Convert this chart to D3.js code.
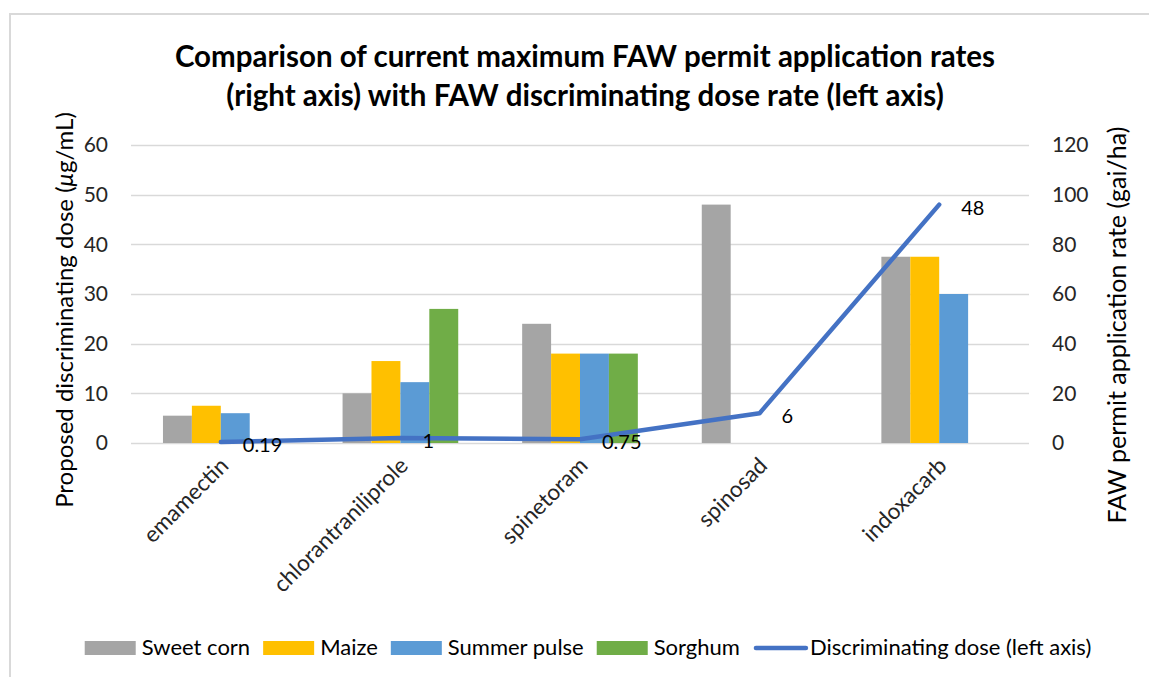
<!DOCTYPE html>
<html>
<head>
<meta charset="utf-8">
<script src="https://cdn.jsdelivr.net/npm/d3@7"></script>
<style>
  body { margin: 0; background: #fff; }
  svg { display: block; font-family: Lato, "Open Sans", sans-serif; }
</style>
</head>
<body>
<svg id="chart" width="1149" height="677"></svg>
<script>
// categories (insecticides)
var categories = ["emamectin", "chlorantraniliprole", "spinetoram", "spinosad", "indoxacarb"];

// permit application rates, right axis (gai/ha); null = no permit
var sweetCorn   = [11, 20, 48, 96, 75];
var maize       = [15, 33, 36, null, 75];
var summerPulse = [12, 24.5, 36, null, 60];
var sorghum     = [null, 54, 36, null, null];

// discriminating dose, left axis (ug/mL)
var discDose = [0.19, 1, 0.75, 6, 48];
var discDoseLabels = ["0.19", "1", "0.75", "6", "48"];

var leftTicks = [0, 10, 20, 30, 40, 50, 60];
var rightTicks = [0, 20, 40, 60, 80, 100, 120];

var seriesNames = ["Sweet corn", "Maize", "Summer pulse", "Sorghum"];
var seriesColors = ["#a5a5a5", "#ffc000", "#5b9bd5", "#70ad47"];
var lineName = "Discriminating dose (left axis)";
var lineColor = "#4472c4";

var svg = d3.select("#chart");

var plot = {left: 131, right: 1029, top: 145, bottom: 443};

// outer frame of the chart
svg.append("rect")
    .attr("x", 10).attr("y", 14)
    .attr("width", 1160).attr("height", 700)
    .attr("fill", "none")
    .attr("stroke", "#d9d9d9")
    .attr("stroke-width", 2);

/************************
 * scales
 ************************/
var x0 = d3.scaleBand()
    .domain(categories)
    .range([plot.left, plot.right])
    .paddingInner(0.356)
    .paddingOuter(0.178);

var x1 = d3.scaleBand()
    .domain(seriesNames)
    .range([0, x0.bandwidth()]);

var yLeft = d3.scaleLinear().domain([0, 60]).range([plot.bottom, plot.top]);
var yRight = d3.scaleLinear().domain([0, 120]).range([plot.bottom, plot.top]);

// gridlines
svg.append("g")
    .selectAll("line")
    .data(leftTicks)
    .enter()
    .append("line")
    .attr("x1", plot.left)
    .attr("x2", plot.right)
    .attr("y1", function(d) { return Math.round(yLeft(d)) + 0.5; })
    .attr("y2", function(d) { return Math.round(yLeft(d)) + 0.5; })
    .attr("stroke", "#d9d9d9")
    .attr("stroke-width", 1.5);

// left axis labels
var leftAxis = d3.axisLeft(yLeft).tickValues(leftTicks).tickSize(0).tickPadding(0);
var gl = svg.append("g")
    .attr("transform", "translate(108,0)")
    .call(leftAxis);
gl.select(".domain").remove();
gl.selectAll("text")
    .attr("font-family", "Lato, sans-serif")
    .attr("font-size", 21)
    .attr("fill", "#262626");

// right axis labels
var rightAxis = d3.axisRight(yRight).tickValues(rightTicks).tickSize(0).tickPadding(0);
var gr = svg.append("g")
    .attr("transform", "translate(1052,0)")
    .call(rightAxis);
gr.select(".domain").remove();
gr.selectAll("text")
    .attr("font-family", "Lato, sans-serif")
    .attr("font-size", 21)
    .attr("fill", "#262626");

/************************
 * bars
 ************************/
var allSeries = [sweetCorn, maize, summerPulse, sorghum];
var barData = [];
categories.forEach(function(c, i) {
    seriesNames.forEach(function(s, j) {
        if (allSeries[j][i] !== null)
            barData.push({cat: c, series: s, color: seriesColors[j], value: allSeries[j][i]});
    });
});

svg.append("g")
    .selectAll("rect")
    .data(barData)
    .enter()
    .append("rect")
    .attr("x", function(d) { return x0(d.cat) + x1(d.series); })
    .attr("width", x1.bandwidth())
    .attr("y", function(d) { return yRight(d.value); })
    .attr("height", function(d) { return yRight(0) - yRight(d.value); })
    .attr("fill", function(d) { return d.color; });

/************************
 * line
 ************************/
var cx = function(i) { return x0(categories[i]) + x0.bandwidth() / 2; };
var line = d3.line()
    .x(function(d, i) { return cx(i); })
    .y(function(d) { return yLeft(d); });

svg.append("path")
    .datum(discDose)
    .attr("d", line)
    .attr("fill", "none")
    .attr("stroke", lineColor)
    .attr("stroke-width", 4.5)
    .attr("stroke-linejoin", "round")
    .attr("stroke-linecap", "round");

svg.append("g")
    .selectAll("text")
    .data(discDose)
    .enter()
    .append("text")
    .attr("x", function(d, i) { return cx(i) + 22; })
    .attr("y", function(d) { return yLeft(d) + 5; })
    .attr("dominant-baseline", "middle")
    .attr("font-size", 20)
    .attr("fill", "#000")
    .text(function(d, i) { return discDoseLabels[i]; });

// category labels, rotated
svg.append("g")
    .selectAll("text")
    .data(categories)
    .enter()
    .append("text")
    .attr("transform", function(d) {
        return "translate(" + (x0(d) + x0.bandwidth() / 2 + 9) + ",467) rotate(-45)";
    })
    .attr("text-anchor", "end")
    .attr("font-size", 22.5)
    .attr("fill", "#262626")
    .text(function(d) { return d; });

/************************
 * titles
 ************************/
var title = svg.append("text")
    .attr("text-anchor", "middle")
    .attr("font-weight", "bold")
    .attr("font-size", 29.5)
    .attr("fill", "#000");
title.append("tspan").attr("x", 585).attr("y", 67)
    .text("Comparison of current maximum FAW permit application rates");
title.append("tspan").attr("x", 585).attr("y", 106)
    .text("(right axis) with FAW discriminating dose rate (left axis)");

var leftTitle = svg.append("text")
    .attr("transform", "translate(73,310) rotate(-90)")
    .attr("text-anchor", "middle")
    .attr("font-size", 24)
    .attr("fill", "#000");
leftTitle.append("tspan").text("Proposed discriminating dose (");
leftTitle.append("tspan").attr("font-style", "italic").text("\u03bc");
leftTitle.append("tspan").text("g/mL)");

svg.append("text")
    .attr("transform", "translate(1126,325) rotate(-90)")
    .attr("text-anchor", "middle")
    .attr("font-size", 25)
    .attr("fill", "#000")
    .text("FAW permit application rate (gai/ha)");

/************************
 * legend
 ************************/
var legendItems = seriesNames.map(function(s, i) {
    return {name: s, color: seriesColors[i], type: "bar"};
});
legendItems.push({name: lineName, color: lineColor, type: "line"});

var legend = svg.append("g");
var lx = 0;
legendItems.forEach(function(d) {
    var g = legend.append("g").attr("transform", "translate(" + lx + ",0)");
    if (d.type === "bar")
        g.append("rect").attr("x", 0).attr("y", -7).attr("width", 51).attr("height", 14).attr("fill", d.color);
    else
        g.append("line").attr("x1", 3).attr("x2", 53).attr("y1", 0).attr("y2", 0)
            .attr("stroke", d.color).attr("stroke-width", 4.5).attr("stroke-linecap", "round");
    var t = g.append("text")
        .attr("x", 57).attr("y", 1)
        .attr("dominant-baseline", "middle")
        .attr("font-size", 22)
        .attr("fill", "#000")
        .text(d.name);
    lx += 57 + t.node().getComputedTextLength() + 13;
});
var legendWidth = lx - 13;
legend.attr("transform", "translate(" + (588 - legendWidth / 2) + ",648)");
</script>
</body>
</html>
